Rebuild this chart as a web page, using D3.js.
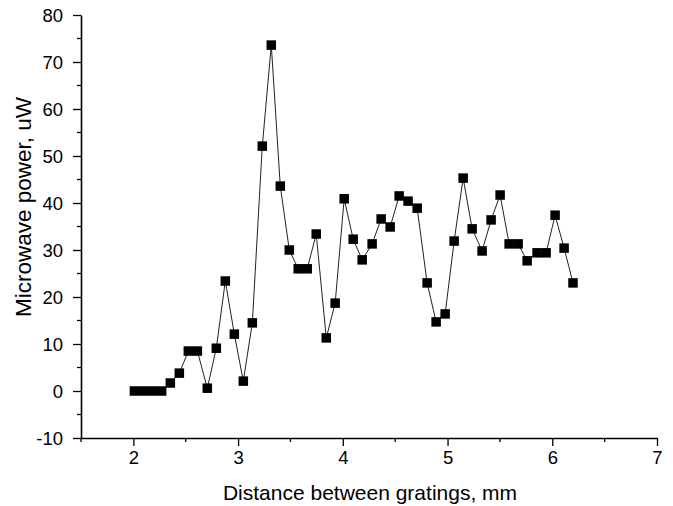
<!DOCTYPE html>
<html><head><meta charset="utf-8">
<script src="https://cdn.jsdelivr.net/npm/d3@7"></script>
<style>body{margin:0;background:#fff}svg{display:block}text{font-family:"Liberation Sans",Arial,sans-serif}</style>
</head><body>
<svg id="c" width="673" height="506"></svg>
<script>
const distance = [2.01,2.095,2.18,2.27,2.353,2.439,2.525,2.611,2.706,2.792,2.878,2.964,3.05,3.136,3.231,3.317,3.403,3.489,3.574,3.66,3.746,3.842,3.927,4.013,4.099,4.185,4.28,4.366,4.452,4.538,4.623,4.71,4.805,4.891,4.977,5.063,5.149,5.235,5.33,5.416,5.502,5.588,5.674,5.76,5.855,5.941,6.027,6.113,6.198];
const power = [0,0,0,0,1.7,3.8,8.5,8.5,0.6,9.1,23.4,12.1,2.1,14.5,52.1,73.6,43.6,30.0,26.0,26.0,33.4,11.3,18.7,40.9,32.3,27.9,31.3,36.6,34.9,41.5,40.4,38.9,23.0,14.7,16.4,31.9,45.3,34.5,29.8,36.4,41.7,31.3,31.3,27.7,29.4,29.4,37.4,30.4,23.0];
const xTicks = [2,3,4,5,6,7];
const yTicks = [-10,0,10,20,30,40,50,60,70,80];
const xTitle = "Distance between gratings, mm";
const yTitle = "Microwave power, uW";

const svg = d3.select("#c");
const L = 81, R = 657, T = 15, B = 438;
const x = d3.scaleLinear().domain([1.5,7]).range([L,R]);
const y = d3.scaleLinear().domain([-10,80]).range([B,T]);

const xMinor = d3.range(1.5,7.01,0.5).filter(v=>!xTicks.includes(v));
const yMinor = d3.range(-5,80,10);
const fmt = d => String(d);

const gx = svg.append("g").attr("transform",`translate(0,${B})`);
gx.call(d3.axisBottom(x).tickValues(xTicks).tickFormat(fmt).tickSize(8).tickSizeOuter(0));
gx.append("g").selectAll("line").data(xMinor).join("line")
  .attr("x1",d=>x(d)).attr("x2",d=>x(d)).attr("y1",0).attr("y2",4).attr("stroke","#000").attr("stroke-width",1.3);
const gy = svg.append("g").attr("transform",`translate(${L},0)`);
gy.call(d3.axisLeft(y).tickValues(yTicks).tickFormat(fmt).tickSize(8).tickSizeOuter(0));
gy.append("g").selectAll("line").data(yMinor).join("line")
  .attr("y1",d=>y(d)).attr("y2",d=>y(d)).attr("x1",0).attr("x2",-4).attr("stroke","#000").attr("stroke-width",1.3);

[gx,gy].forEach(g=>{
  g.select(".domain").attr("stroke","#000").attr("stroke-width",1.6);
  g.selectAll(".tick line").attr("stroke","#000").attr("stroke-width",1.3);
  g.selectAll(".tick text").attr("font-size",18.5).attr("fill","#000").attr("font-family","Liberation Sans, Arial, sans-serif");
});
gx.selectAll(".tick text").attr("y",12).attr("dy","0.75em");
gy.selectAll(".tick text").attr("x",-18).attr("dy","0.35em");

const pts = distance.map((d,i)=>[d,power[i]]);
svg.append("path").datum(pts)
  .attr("d", d3.line().x(d=>x(d[0])).y(d=>y(d[1])))
  .attr("fill","none").attr("stroke","#222").attr("stroke-width",1);
const s = 9.5;
svg.append("g").selectAll("rect").data(pts).join("rect")
  .attr("x",d=>x(d[0])-s/2).attr("y",d=>y(d[1])-s/2).attr("width",s).attr("height",s).attr("fill","#000");

svg.append("text").attr("x",370).attr("y",500).attr("text-anchor","middle").attr("font-size",21).text(xTitle);
svg.append("text").attr("transform",`translate(31,207) rotate(-90)`).attr("text-anchor","middle").attr("font-size",22.5).text(yTitle);
</script>
</body></html>
